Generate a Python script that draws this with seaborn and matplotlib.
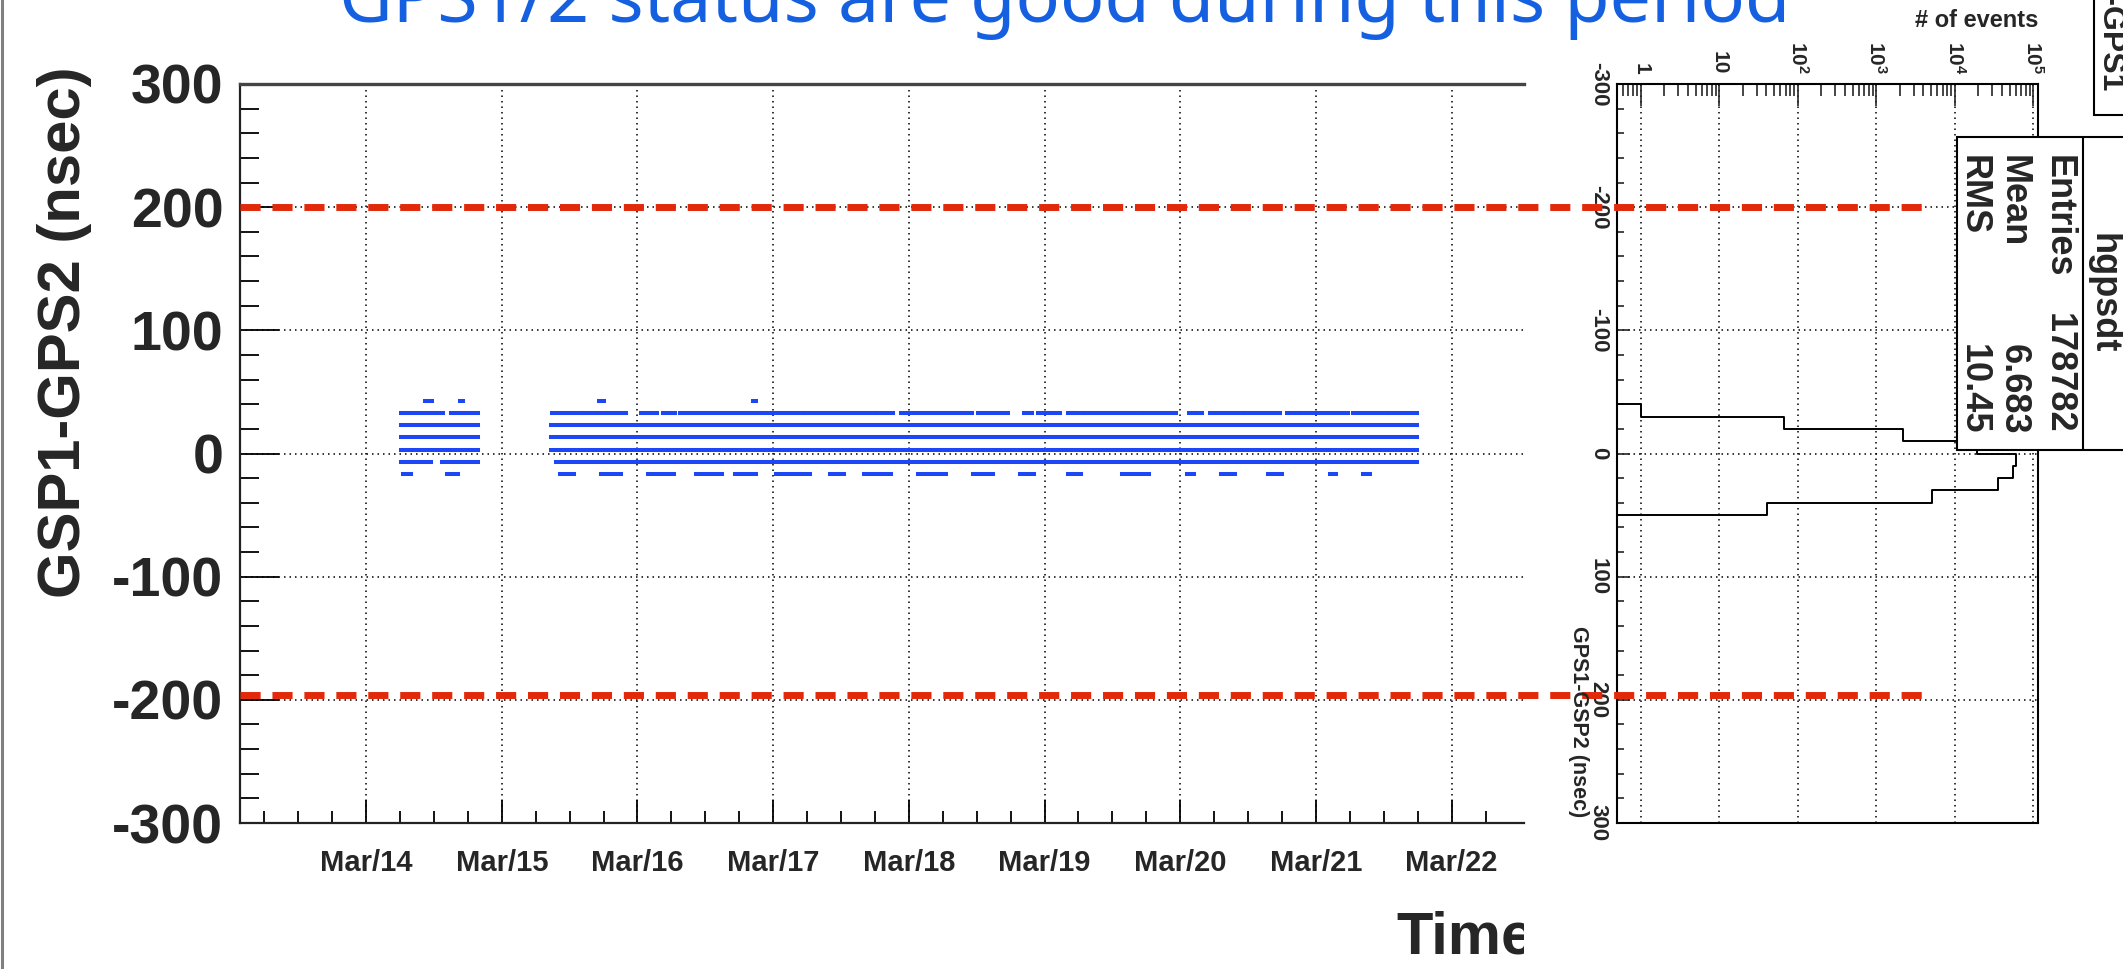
import numpy as np
import pandas as pd
import matplotlib
matplotlib.use("Agg")
import matplotlib.pyplot as plt
import seaborn as sns
from matplotlib.patches import Rectangle
from matplotlib.lines import Line2D
from matplotlib.transforms import Bbox, TransformedBbox
from matplotlib.ticker import FixedLocator, MultipleLocator, LogLocator, NullFormatter

# ---------------- data ----------------
title_text = "GPS1/2 status are good during this period"
day_ticks = [0, 1, 2, 3, 4, 5, 6, 7, 8]          # days after Mar/14 00:00
day_labels = ["Mar/14", "Mar/15", "Mar/16", "Mar/17", "Mar/18",
              "Mar/19", "Mar/20", "Mar/21", "Mar/22"]
limit_lines = [200, -196]                           # nsec

# time segments (start_day, end_day) where each quantised level has entries
row_p43 = [(0.435, 0.486), (0.693, 0.717), (1.715, 1.751), (2.117, 2.117),
           (2.459, 2.459), (2.702, 2.702), (2.849, 2.873), (3.337, 3.337),
           (3.446, 3.446), (3.568, 3.568), (3.612, 3.612), (7.407, 7.407)]
row_p33 = [(0.258, 0.295), (0.315, 0.501), (0.531, 0.570), (0.627, 0.663),
           (0.683, 0.828), (1.370, 1.588), (1.605, 1.793), (1.820, 1.915),
           (2.024, 2.146), (2.190, 2.280), (2.312, 2.795), (2.812, 3.215),
           (3.234, 3.759), (3.776, 3.880), (3.939, 4.178), (4.207, 4.463),
           (4.507, 4.544), (4.576, 4.731), (4.847, 4.909), (4.953, 5.113),
           (5.173, 5.205), (5.217, 5.284), (5.308, 5.555), (5.575, 5.710),
           (5.723, 5.969), (6.061, 6.117), (6.134, 6.159), (6.216, 6.462),
           (6.487, 6.734), (6.788, 6.869), (6.887, 6.943), (6.961, 7.239),
           (7.271, 7.515), (7.530, 7.745)]
row_p23 = [(0.258, 0.501), (0.531, 0.828), (1.364, 7.745)]
row_p13 = [(-0.16, -0.16), (0.258, 0.501), (0.531, 0.828), (1.364, 7.745)]
row_p03 = [(0.258, 0.501), (0.531, 0.828), (1.364, 7.745)]
row_m07 = [(-0.16, -0.16), (0.258, 0.480), (0.560, 0.828), (1.400, 2.300),
           (2.330, 4.000), (4.030, 6.000), (6.030, 7.745)]
row_m17 = [(0.270, 0.330), (0.600, 0.680), (1.430, 1.530), (1.730, 1.880),
           (2.080, 2.270), (2.430, 2.620), (2.720, 2.870), (3.020, 3.270),
           (3.420, 3.520), (3.670, 3.870), (4.070, 4.270), (4.470, 4.620),
           (4.820, 4.920), (5.170, 5.270), (5.570, 5.770), (6.050, 6.100),
           (6.300, 6.400), (6.650, 6.750), (7.100, 7.150), (7.350, 7.400)]
row_m27 = [(0.290, 0.290), (0.810, 0.810), (2.200, 2.200), (3.240, 3.240),
           (3.310, 3.310), (4.070, 4.070), (4.170, 4.170), (4.670, 4.670),
           (5.160, 5.160), (5.840, 5.840), (6.210, 6.210), (6.290, 6.290),
           (7.430, 7.430)]
row_m37 = [(3.570, 3.570)]
row_levels = [43, 33, 23, 13, 3, -7, -17, -27, -37]
row_segments = [row_p43, row_p33, row_p23, row_p13, row_p03,
                row_m07, row_m17, row_m27, row_m37]

hist_edges = [-50, -40, -30, -20, -10, 0, 10, 20, 30, 40, 50, 60]
hist_counts = [0, 1, 66, 2200, 19400, 60500, 56000, 35400, 5160, 41, 0]
count_ticks = [1, 10, 100, 1000, 10000, 100000]
count_labels = ["1", "10", r"$\mathbf{10^{2}}$", r"$\mathbf{10^{3}}$",
                r"$\mathbf{10^{4}}$", r"$\mathbf{10^{5}}$"]
stats_names = ["Entries", "Mean", "RMS"]
stats_values = ["178782", "6.683", "10.45"]

# ---------------- style ----------------
sns.set_theme(style="white")
plt.rcParams["font.family"] = ["Liberation Sans", "DejaVu Sans"]
plt.rcParams["font.weight"] = "bold"
plt.rcParams["axes.unicode_minus"] = False
plt.rcParams["mathtext.fontset"] = "custom"
plt.rcParams["mathtext.bf"] = "Liberation Sans:bold"
plt.rcParams["mathtext.rm"] = "Liberation Sans:bold"

W, H = 2123, 969
fig = plt.figure(figsize=(W / 100, H / 100), dpi=100)
fig.patch.set_facecolor("white")


def fx(px):
    return px / W


def fy(py):  # py measured from the top
    return 1 - py / H


TOP, BOT = 84, 823
ax = fig.add_axes([fx(240), fy(BOT), fx(1524 - 240), (BOT - TOP) / H])
axh = fig.add_axes([fx(1617), fy(BOT), fx(2038 - 1617), (BOT - TOP) / H])
ax.set_zorder(3)
ax.patch.set_alpha(0)
axh.set_zorder(2)

BLUE = "#1d46f7"
RED = "#e22a0b"
grid_kw = dict(color="black", linestyle=(0, (1, 2.6)), linewidth=1.1)

# ---- main scatter (time series) ----
seg_df = pd.DataFrame(
    [(lvl, s, e) for lvl, segs in zip(row_levels, row_segments) for s, e in segs],
    columns=["level", "start", "end"])
lc = ax.hlines(seg_df["level"], seg_df["start"], seg_df["end"],
               colors=BLUE, linewidth=2.9)
lc.set_capstyle("projecting")

ax.set_xlim(-0.929, 8.533)
ax.set_ylim(-300, 300)
ax.set_xticks(day_ticks)
ax.set_xticklabels(day_labels, fontsize=21, fontweight="bold")
ax.xaxis.set_minor_locator(FixedLocator(np.arange(-0.75, 8.3, 0.25)))
ax.yaxis.set_major_locator(MultipleLocator(100))
ax.yaxis.set_minor_locator(MultipleLocator(20))
ax.tick_params(axis="x", which="major", direction="in", length=16.5, width=1.3,
               pad=19, bottom=True, top=False, color="black")
ax.tick_params(axis="x", which="minor", direction="in", length=8.5, width=1.3,
               bottom=True, top=False, color="black")
ax.tick_params(axis="y", which="major", direction="in", length=28, width=1.3,
               pad=12, left=True, right=False, color="black", labelsize=40)
ax.tick_params(axis="y", which="minor", direction="in", length=14, width=1.3,
               left=True, right=False, color="black")
for lbl in ax.get_yticklabels():
    lbl.set_fontweight("bold")
ax.grid(True, which="major", **grid_kw)
ax.spines["right"].set_visible(False)
for sp in ["left", "bottom"]:
    ax.spines[sp].set_color("#222222")
    ax.spines[sp].set_linewidth(1.6)
ax.spines["top"].set_color("#444444")
ax.spines["top"].set_linewidth(2.4)

# red limit lines spanning both panels
for yv in limit_lines:
    ax.axhline(yv, xmin=0, xmax=(1922 - 240) / (1524 - 240), color=RED,
               linewidth=5.0, linestyle=(0, (2.9, 1.7)), clip_on=False,
               dash_capstyle="butt", zorder=10)

# ---- histogram panel (rotated projection) ----
centers = [(a + b) / 2 for a, b in zip(hist_edges[:-1], hist_edges[1:])]
hdf = pd.DataFrame({"dt": centers, "n": hist_counts})
sns.histplot(data=hdf, y="dt", weights="n", bins=hist_edges, element="step",
             fill=False, color="black", linewidth=1.4, ax=axh)
axh.set_xscale("log")
axh.set_xlim(0.5, 1.15e5)
axh.set_ylim(300, -300)
axh.set_xlabel("")
axh.set_ylabel("")
axh.xaxis.tick_top()
axh.set_xticks(count_ticks)
axh.set_xticklabels(count_labels, fontsize=15, fontweight="bold", rotation=-90)
axh.xaxis.set_minor_locator(LogLocator(base=10, subs=np.arange(2, 10), numticks=20))
axh.xaxis.set_minor_formatter(NullFormatter())
axh.yaxis.set_major_locator(MultipleLocator(100))
axh.yaxis.set_minor_locator(MultipleLocator(20))
axh.tick_params(axis="x", which="major", direction="in", length=16, width=1.2,
                pad=7, top=True, bottom=False, labeltop=True, labelbottom=False)
axh.tick_params(axis="x", which="minor", direction="in", length=8.5, width=1.2,
                top=True, bottom=False)
axh.tick_params(axis="y", which="major", direction="in", length=9.5, width=1.2,
                pad=6, left=True, right=False, labelsize=16)
axh.tick_params(axis="y", which="minor", direction="in", length=4.8, width=1.2,
                left=True, right=False)
for lbl in axh.get_yticklabels():
    lbl.set_rotation(-90)
    lbl.set_va("center")
    lbl.set_fontweight("bold")
axh.grid(True, which="major", **grid_kw)
for sp in axh.spines.values():
    sp.set_color("black")
    sp.set_linewidth(1.5)

# ---------------- texts ----------------
fig.text(fx(1065), fy(22), title_text, ha="center", va="baseline",
         color="#1560e0", fontsize=53, fontweight="normal",
         family=["Noto Sans", "DejaVu Sans"])
fig.text(fx(65), fy(66), "GSP1-GPS2 (nsec)", rotation=90, ha="center", va="top",
         fontsize=43, fontweight="bold")
t_time = fig.text(fx(1396), fy(953), "Time", ha="left", va="baseline",
                  fontsize=43, fontweight="bold")
t_time.set_clip_box(TransformedBbox(Bbox([[0, 0], [1524 / W, 1]]), fig.transFigure))
t_time.set_clip_on(True)

fig.text(fx(2038), fy(27), "# of events", ha="right", va="baseline",
         fontsize=17, fontweight="bold")
fig.text(fx(1579), fy(817), "GPS1-GSP2 (nsec)", rotation=-90, ha="center",
         va="bottom", fontsize=15.5, fontweight="bold")

# stats box
fig.add_artist(Rectangle((fx(1957), fy(450)), fx(2140 - 1957), (450 - 137) / H,
                         transform=fig.transFigure, facecolor="white",
                         edgecolor="black", linewidth=1.5, zorder=20))
fig.add_artist(Line2D([fx(2083), fx(2083)], [fy(450), fy(137)],
                      transform=fig.transFigure, color="black", linewidth=1.5,
                      zorder=21))
fig.text(fx(2103), fy(293), "hgpsdt", rotation=-90, ha="center", va="center",
         fontsize=26, fontweight="bold", zorder=22)
for xc, name, val in zip([2058, 2013, 1973], stats_names, stats_values):
    fig.text(fx(xc), fy(155), name, rotation=-90, ha="center", va="top",
             fontsize=26, fontweight="bold", zorder=22)
    fig.text(fx(xc), fy(434), val, rotation=-90, ha="center", va="bottom",
             fontsize=26, fontweight="bold", zorder=22)

# title box of the histogram (cut at the top edge)
fig.add_artist(Rectangle((fx(2094), fy(115)), fx(2140 - 2094), 130 / H,
                         transform=fig.transFigure, facecolor="white",
                         edgecolor="black", linewidth=1.5, zorder=20))
fig.text(fx(2110), fy(92), "GPS2-GPS1", rotation=-90, ha="center", va="bottom",
         fontsize=23, fontweight="bold", zorder=22)

# slide border at the left edge
fig.add_artist(Line2D([fx(2), fx(2)], [0, 1], transform=fig.transFigure,
                      color="#808080", linewidth=2.2, zorder=30))

fig.savefig("out.png", dpi=100, facecolor="white")
